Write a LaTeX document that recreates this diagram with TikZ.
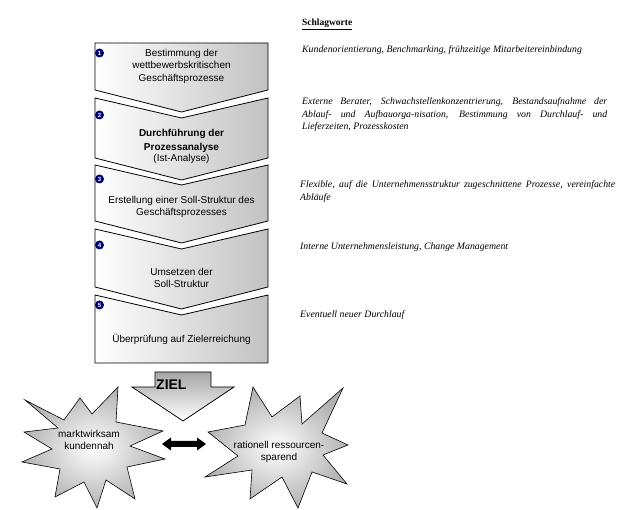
\documentclass[tikz,border=0pt]{standalone}
\usepackage{fontspec}
\setmainfont{Liberation Serif}
\setsansfont{Liberation Sans}
\begin{document}
\begin{tikzpicture}[x=1pt,y=-1pt,
  chev/.style={draw=black,line width=0.8pt,left color=white,right color=black!24},
  badge/.style={circle,fill=blue!45!black,text=white,inner sep=0pt,minimum size=9pt,font=\sffamily\bfseries\fontsize{6}{6}\selectfont},
  boxtxt/.style={align=center,font=\sffamily\fontsize{10}{12.5}\selectfont,inner sep=0pt},
  kw/.style={anchor=base west,inner sep=0pt,font=\itshape\fontsize{9.8}{12.5}\selectfont},
  starfill/.style={draw=black,line width=0.6pt,inner color=white,outer color=black!30},
  startxt/.style={align=center,font=\sffamily\fontsize{10}{12}\selectfont,inner sep=0pt}]
\useasboundingbox (0,0) rectangle (630,510);
% chevrons
\draw[chev] (95,43) -- (268,43) -- (268,90) -- (181.5,112) -- (95,90) -- cycle;
\draw[chev] (95,98) -- (181.5,118) -- (268,98) -- (268,158) -- (181.5,180) -- (95,158) -- cycle;
\draw[chev] (95,165) -- (181.5,185) -- (268,165) -- (268,221) -- (181.5,243) -- (95,221) -- cycle;
\draw[chev] (95,229) -- (181.5,249) -- (268,229) -- (268,287) -- (181.5,309) -- (95,287) -- cycle;
\draw[chev] (95,295) -- (181.5,315) -- (268,295) -- (268,363) -- (95,363) -- cycle;
% badges
\node[badge] (b1) at (99.5,53) {1};
\node[badge] (b2) at (99.5,115) {2};
\node[badge] (b3) at (99.5,179) {3};
\node[badge] (b4) at (99.5,245) {4};
\node[badge] (b5) at (99.5,305) {5};
% box texts
\node[boxtxt] (t1) at (181.5,66) {Bestimmung der\\wettbewerbskritischen\\Geschäftsprozesse};
\node[boxtxt] (t2) at (181.5,146) {{\bfseries Durchführung der}\\[2pt]{\bfseries Prozessanalyse}\\[-2pt](Ist-Analyse)};
\node[boxtxt] (t3) at (181.5,207) {Erstellung einer Soll-Struktur des\\Geschäftsprozesses};
\node[boxtxt] (t4) at (181.5,278) {Umsetzen der\\Soll-Struktur};
\node[boxtxt] (t5) at (181.5,339) {Überprüfung auf Zielerreichung};
% keywords
\node[anchor=base west,inner sep=0pt,font=\bfseries\fontsize{9.5}{12}\selectfont] (sw) at (302,26) {\underline{Schlagworte}};
\node[kw] (k1) at (302,53) {Kundenorientierung, Benchmarking, frühzeitige Mitarbeitereinbindung};
\node[kw] (k2) at (302,105) {\parbox[t]{305pt}{\hyphenpenalty=10000 Externe Berater, Schwachstellenkonzentrierung, Bestandsaufnahme der\linebreak Ablauf- und Aufbauorga-nisation, Bestimmung von Durchlauf- und\linebreak Lieferzeiten, Prozesskosten}};
\node[kw] (k3) at (300,188) {\parbox[t]{315pt}{\hyphenpenalty=10000 Flexible, auf die Unternehmensstruktur zugeschnittene Prozesse, vereinfachte\linebreak Abläufe}};
\node[kw] (k4) at (300,250) {Interne Unternehmensleistung, Change Management};
\node[kw] (k5) at (300,318) {Eventuell neuer Durchlauf};
% ZIEL arrow
\draw[draw=black,line width=0.8pt,top color=black!35,bottom color=white]
  (155,372) -- (211,372) -- (211,387) -- (234,387) -- (183,421) -- (132,387) -- (155,387) -- cycle;
\node[anchor=west,inner sep=0pt,font=\sffamily\bfseries\fontsize{14}{14}\selectfont] (ziel) at (156,385) {ZIEL};
% stars
\draw[starfill] (25,400) -- (64,420) -- (80,398) -- (92,414) -- (118,387) -- (116,422) -- (163,431) -- (130,446) -- (165,459) -- (127,467) -- (135,499) -- (106,480) -- (97,508) -- (84,482) -- (55,497) -- (60,469) -- (22,462) -- (52,449) -- (24,432) -- (58,428) -- cycle;
\node[startxt] (s1) at (89,440) {marktwirksam\\kundennah};
\draw[starfill] (208,432) -- (245,425) -- (253,387) -- (272,417) -- (300,396) -- (302,424) -- (343,388) -- (322,433) -- (348,445) -- (323,455) -- (347,484) -- (312,472) -- (298,508) -- (282,477) -- (250,499) -- (252,470) -- (205,477) -- (238,456) -- cycle;
\node[startxt] (s2) at (279,452) {rationell ressourcen-\\sparend};
% double arrow
\fill[black] (162,444) -- (171,437.5) -- (171,441) -- (197,441) -- (197,437.5) -- (206,444) -- (197,450.5) -- (197,447) -- (171,447) -- (171,450.5) -- cycle;
\end{tikzpicture}
\end{document}
